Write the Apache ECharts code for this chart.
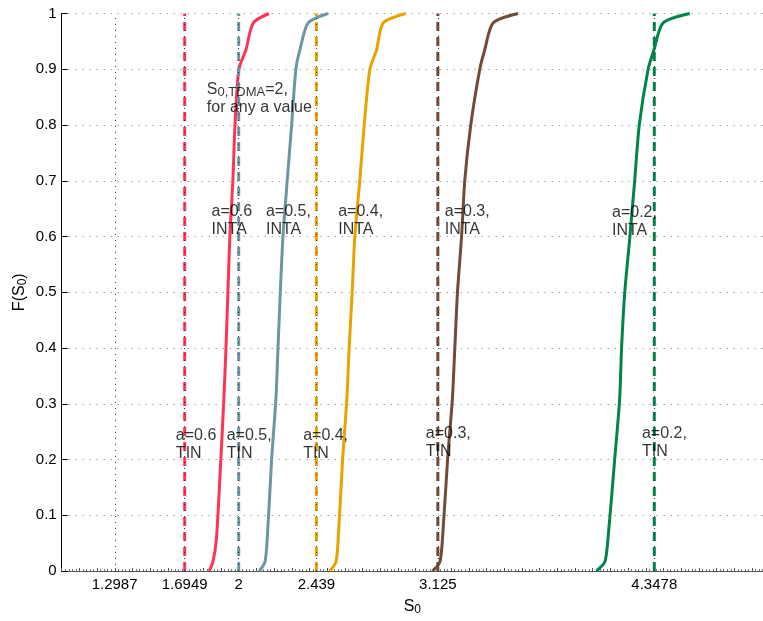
<!DOCTYPE html>
<html><head><meta charset="utf-8">
<script src="https://cdn.jsdelivr.net/npm/echarts@6/dist/echarts.min.js"></script>
<style>html,body{margin:0;padding:0;background:#fff}#c{width:763px;height:621px}</style>
</head><body><div id="c"></div>
<script>
// Empirical CDF levels (y values shared by all curves)
const fLevels = [0, 0.016, 0.057, 0.2, 0.308, 0.4, 0.5, 0.6, 0.7, 0.8, 0.9, 0.935, 0.983, 1];
// S0 values for INTA curves, one array per a value
const sInta06 = [1.833, 1.854, 1.874, 1.899, 1.916, 1.928, 1.939, 1.950, 1.967, 1.979, 2.001, 2.041, 2.082, 2.171];
const sInta05 = [2.116, 2.148, 2.161, 2.186, 2.210, 2.222, 2.235, 2.250, 2.274, 2.299, 2.323, 2.346, 2.392, 2.505];
const sInta04 = [2.515, 2.549, 2.562, 2.587, 2.611, 2.624, 2.641, 2.656, 2.684, 2.709, 2.741, 2.779, 2.816, 2.944];
const sInta03 = [3.095, 3.136, 3.151, 3.180, 3.207, 3.221, 3.236, 3.259, 3.277, 3.311, 3.362, 3.390, 3.437, 3.578];
const sInta02 = [4.021, 4.068, 4.086, 4.124, 4.152, 4.163, 4.181, 4.210, 4.237, 4.263, 4.313, 4.346, 4.397, 4.548];
// TIN thresholds (vertical dashed lines)
const tinValues = [1.6949, 2, 2.439, 3.125, 4.3478];
// x tick labels
const xTickValues = [1.2987, 1.6949, 2, 2.439, 3.125, 4.3478];
const seriesNames = ['a=0.6', 'a=0.5', 'a=0.4', 'a=0.3', 'a=0.2'];
// annotation texts and their anchor points (data coords)
const annoTexts = [
  '{m|S}{sub|0,TDMA}{m|=2,}\n{m|for any a value}',
  'a=0.6\nINTA', 'a=0.5,\nINTA', 'a=0.4,\nINTA', 'a=0.3,\nINTA', 'a=0.2,\nINTA',
  'a=0.6\nTIN', 'a=0.5,\nTIN', 'a=0.4,\nTIN', 'a=0.3,\nTIN', 'a=0.2,\nTIN'
];
const annoX = [1.820, 1.847, 2.154, 2.562, 3.164, 4.109, 1.645, 1.932, 2.364, 3.057, 4.278];
const annoY = [0.847, 0.629, 0.629, 0.629, 0.629, 0.626, 0.227, 0.227, 0.227, 0.230, 0.231];

const colors = ['#FF3355', '#6C97A2', '#E9A200', '#704B37', '#00844A'];
const FONT = '"Liberation Sans", Arial, sans-serif';
const intaArrays = [sInta06, sInta05, sInta04, sInta03, sInta02];

const chart = echarts.init(document.getElementById('c'), null, {renderer: 'canvas'});

const series = [];
// vertical dotted grid lines at the custom ticks
series.push({
  type: 'line', data: [], z: 1, silent: true,
  markLine: {
    silent: true, symbol: ['none', 'none'], label: {show: false},
    lineStyle: {type: [1, 5], color: '#333', width: 1},
    emphasis: {disabled: true},
    data: xTickValues.map(v => ({xAxis: v}))
  }
});
intaArrays.forEach((arr, i) => {
  series.push({
    name: seriesNames[i] + ' INTA', type: 'line', z: 3,
    data: arr.map((s, k) => [s, fLevels[k]]),
    showSymbol: false, symbol: 'none', smooth: 0.25,
    lineStyle: {color: colors[i], width: 3},
    emphasis: {disabled: true}
  });
});
tinValues.forEach((v, i) => {
  series.push({
    name: seriesNames[i] + ' TIN', type: 'line', z: 4,
    data: [[v, 0], [v, 1]],
    showSymbol: false, symbol: 'none',
    lineStyle: {color: colors[i], width: 3, type: [9, 6]},
    emphasis: {disabled: true}
  });
});
series.push({
  type: 'scatter', z: 6, symbolSize: 0, silent: true,
  data: annoTexts.map((t, i) => ({
    value: [annoX[i], annoY[i]],
    label: {formatter: t}
  })),
  label: {
    show: true, position: [0, 0], align: 'left', verticalAlign: 'middle',
    fontFamily: FONT, fontSize: 16, lineHeight: 18, color: '#000',
    rich: {
      m: {fontFamily: FONT, fontSize: 16, lineHeight: 18, color: '#000'},
      sub: {fontFamily: FONT, fontSize: 13, lineHeight: 2, verticalAlign: 'bottom', color: '#000'}
    }
  }
});

chart.setOption({
  animation: false,
  backgroundColor: '#fff',
  grid: {left: 61.7, right: 0, top: 13.5, bottom: 49, containLabel: false},
  xAxis: {
    type: 'value', min: 1, max: 4.962, interval: 0.1,
    name: '{m|S}{sub|0}', nameLocation: 'middle', nameGap: 27, nameMoveOverlap: false,
    nameTextStyle: {
      rich: {
        m: {fontFamily: FONT, fontSize: 16, lineHeight: 18, color: '#000'},
        sub: {fontFamily: FONT, fontSize: 12, lineHeight: 2, verticalAlign: 'bottom', color: '#000'}
      }
    },
    axisLine: {show: true, lineStyle: {color: '#555', width: 1}},
    axisTick: {show: true, inside: true, length: 3, lineStyle: {color: '#555'}},
    minorTick: {show: true, splitNumber: 5, length: 2, lineStyle: {color: '#777'}},
    axisLabel: {
      customValues: xTickValues, margin: 6,
      fontFamily: FONT, fontSize: 15, color: '#000'
    },
    splitLine: {show: false}
  },
  yAxis: {
    type: 'value', min: 0, max: 1, interval: 0.1,
    name: '{m|F(S}{sub|0}{m|)}', nameLocation: 'middle', nameGap: 33, nameRotate: 90,
    nameMoveOverlap: false,
    nameTextStyle: {
      rich: {
        m: {fontFamily: FONT, fontSize: 16, lineHeight: 18, color: '#000'},
        sub: {fontFamily: FONT, fontSize: 12, lineHeight: 2, verticalAlign: 'bottom', color: '#000'}
      }
    },
    axisLine: {show: true, lineStyle: {color: '#000', width: 1}},
    axisTick: {show: true, inside: true, length: 6, lineStyle: {color: '#000'}},
    axisLabel: {margin: 5, fontFamily: FONT, fontSize: 15, color: '#000'},
    splitLine: {show: true, lineStyle: {type: [1, 6], color: '#777', width: 1}}
  },
  series: series
});
</script></body></html>
